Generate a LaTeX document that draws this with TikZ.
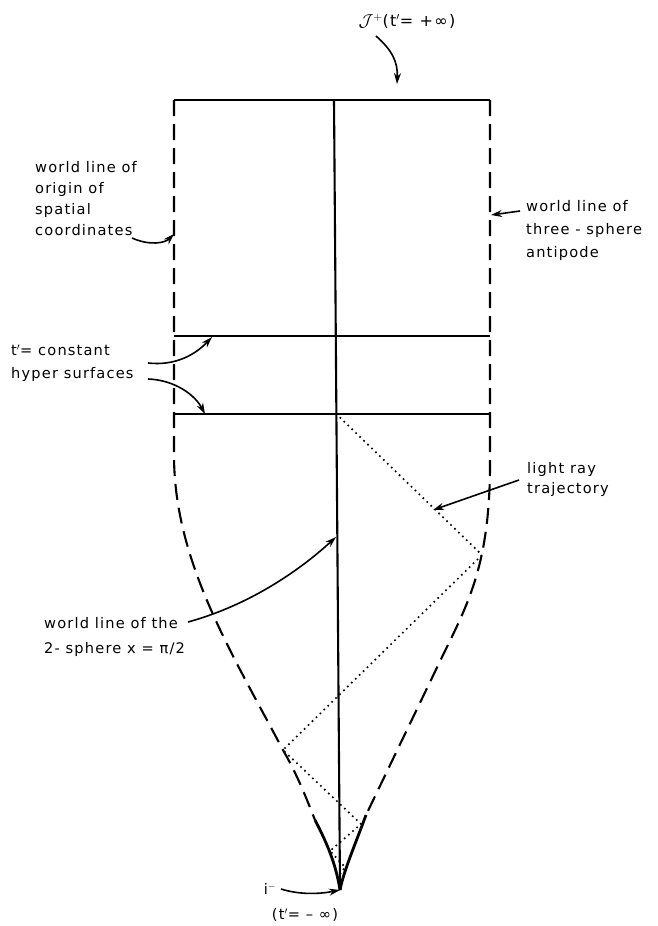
\documentclass[tikz,border=0pt]{standalone}
\usepackage{fontspec}
\setmainfont[LetterSpace=8]{DejaVu Sans}
\usetikzlibrary{arrows.meta}
\begin{document}
\begin{tikzpicture}[x=1pt,y=-1pt,
  lbl/.style={font=\fontsize{14.6}{23}\selectfont, align=left, inner sep=0pt, anchor=west},
  bnd/.style={line width=2.1pt},
  dsh/.style={line width=2.1pt, dash pattern=on 16pt off 8pt},
  apexline/.style={line width=2.8pt},
  ray/.style={line width=2.3pt, dash pattern=on 0pt off 5.5pt, line cap=round},
  ptr/.style={line width=1.6pt, -{Stealth[length=11pt,width=7pt]}}]
\useasboundingbox (0,0) rectangle (658,926);
% frame points
\coordinate (TL) at (174,100);
\coordinate (TR) at (490,100);
\coordinate (TC) at (334,100);
\coordinate (A) at (340,890);
\coordinate (L1) at (174,336);
\coordinate (R1) at (490,336);
\coordinate (L2) at (174,414);
\coordinate (R2) at (490,414);
\coordinate (C2) at (336.4,414);
\coordinate (LB) at (174,455);
\coordinate (RB) at (490,455);
\coordinate (LE) at (315,820);
\coordinate (RE) at (366,815);
% solid lines
\draw[bnd] (TL) -- (TR);
\draw[bnd] (L1) -- (R1);
\draw[bnd] (L2) -- (R2);
\draw[bnd] (TC) -- (A);
% dashed boundaries
\draw[dsh] (TL) -- (LB) .. controls (174,560) and (230,650) .. (283,750) .. controls (298,776) and (307,800) .. (LE);
\draw[dsh] (TR) -- (RB) .. controls (491,560) and (470,600) .. (443,655) -- (RE);
\draw[apexline] (LE) .. controls (328,845) and (336,865) .. (A);
\draw[apexline] (RE) .. controls (355,845) and (344,870) .. (A);
% light ray
\coordinate (P1) at (482,555);
\coordinate (P2) at (283,750);
\coordinate (P3) at (361,824);
\coordinate (P4) at (330,851);
\coordinate (P5) at (345,867);
\coordinate (P6) at (339,876);
\draw[ray] (C2) -- (P1) -- (P2) -- (P3) -- (P4) -- (P5) -- (P6);
% labels
\node[lbl, anchor=center, font=\fontsize{16}{20}\selectfont] (scri) at (407,21) {$\mathcal{J}^{+}$(t$'$= +∞)};
\coordinate (scriS) at (376,36);
\coordinate (scriE) at (397,84);
\draw[ptr] (scriS) .. controls (392,50) and (398,62) .. (scriE);

\node[lbl, font=\fontsize{14.6}{21}\selectfont] (orig) at (35,199) {world line of\\origin of\\spatial\\coordinates};
\coordinate (origS) at (132,238);
\coordinate (origE) at (174,234);
\draw[ptr] (origS) .. controls (150,246) and (165,243) .. (origE);

\node[lbl] (anti) at (526,230) {world line of\\three - sphere\\antipode};
\coordinate (antiS) at (520,211);
\coordinate (antiE) at (491,215);
\draw[ptr] (antiS) -- (antiE);

\node[lbl] (hyp) at (11,363) {t$'$= constant\\hyper surfaces};
\coordinate (hypS1) at (148,363);
\coordinate (hypE1) at (212,337);
\coordinate (hypS2) at (148,379);
\coordinate (hypE2) at (205,414);
\draw[ptr] (hypS1) .. controls (175,366) and (195,355) .. (hypE1);
\draw[ptr] (hypS2) .. controls (175,380) and (195,395) .. (hypE2);

\node[lbl, font=\fontsize{14.6}{25}\selectfont] (sph) at (44,637) {world line of the\\2- sphere x = π/2};
\coordinate (sphS) at (188,622);
\coordinate (sphE) at (336,537);
\draw[ptr] (sphS) .. controls (250,605) and (300,570) .. (sphE);

\node[lbl, font=\fontsize{14.6}{20}\selectfont] (ray) at (527,479) {light ray\\trajectory};
\coordinate (rayS) at (519,480);
\coordinate (rayE) at (433,510);
\draw[ptr] (rayS) -- (rayE);

\node[lbl, anchor=center] (im) at (270,889) {i$^{-}$};
\coordinate (imS) at (281,889);
\draw[ptr] (imS) .. controls (300,895) and (320,894) .. (A);
\node[lbl, anchor=center] (tm) at (305,915) {(t$'$= – ∞)};
\end{tikzpicture}
\end{document}
